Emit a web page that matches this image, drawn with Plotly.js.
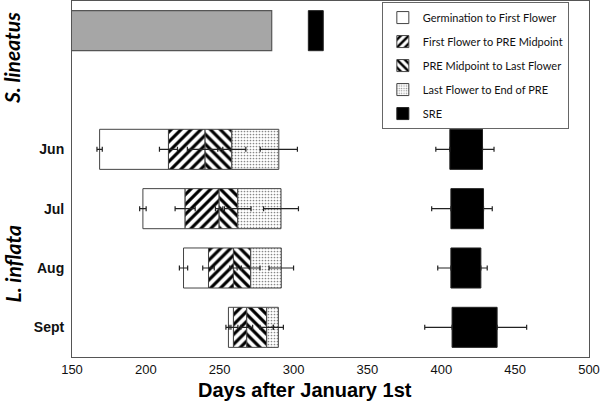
<!DOCTYPE html>
<html>
<head>
<meta charset="utf-8">
<script src="https://cdn.plot.ly/plotly-3.0.1.min.js"></script>
<style>html,body{margin:0;padding:0;background:#fff;}#chart{width:600px;height:409px;}</style>
</head>
<body>
<div id="chart"></div>
<script>
// ---- data ----
const rowLabels = ['Jun', 'Jul', 'Aug', 'Sept'];
const rowPos = [2, 3, 4, 5];
const germ = [168.7, 198.0, 225.5, 255.9];
const firstFlower = [215.3, 226.6, 242.4, 259.3];
const preMid = [240.1, 249.6, 259.3, 268.3];
const lastFlower = [258.2, 262.2, 271.0, 281.8];
const preEnd = [290.0, 291.5, 291.7, 289.7];
const germErr = [1.8, 2.2, 2.8, 1.7];
const firstFlowerErr = [6.1, 6.8, 3.9, 3.0];
const preMidErr = [12, 2.5, 2.5, 4];
const lastFlowerErr = [9.5, 9.0, 6.3, 4.5];
const preEndErr = [12.6, 11.8, 8.3, 3.4];
const sreStart = [405.8, 406.5, 406.5, 407.3];
const sreEnd = [427.9, 428.6, 426.8, 437.8];
const sreStartErr = [9.5, 13.0, 8.9, 18.5];
const sreEndErr = [7.8, 5.9, 4.3, 20.0];
// S. lineatus
const slPos = [0];
const slPreStart = [100];
const slPreEnd = [285.2];
const slSreStart = [310.0];
const slSreEnd = [320.1];
const seriesNames = ['Germination to First Flower', 'First Flower to PRE Midpoint',
  'PRE Midpoint to Last Flower', 'Last Flower to End of PRE', 'SRE'];
const speciesLabels = ['S. lineatus', 'L. inflata'];
const xTitle = 'Days after January 1st';

// ---- helpers ----
const diff = (a, b) => a.map((v, i) => v - b[i]);
const zeros = a => a.map(() => 0);
const W = 0.675;
const outline = {color: '#444', width: 1};

function segment(name, base, end, pattern, color, grp) {
  return {
    type: 'bar', orientation: 'h', name: name, legendgroup: grp,
    y: rowPos, base: base, x: diff(end, base), width: W,
    marker: {color: color, line: outline, pattern: pattern},
    hoverinfo: 'skip'
  };
}
function errs(xs, plus, minus) {
  return {
    type: 'scatter', mode: 'markers', x: xs, y: rowPos, showlegend: false,
    marker: {size: 1, opacity: 0}, hoverinfo: 'skip',
    error_x: {type: 'data', symmetric: false, array: plus, arrayminus: minus, visible: true,
              color: '#222', thickness: 1.2, width: 2.5}
  };
}

const traces = [
  segment(seriesNames[0], germ, firstFlower, {shape: ''}, '#ffffff', 'g1'),
  segment(seriesNames[1], firstFlower, preMid,
    {shape: '/', fgcolor: '#000', bgcolor: '#fff', size: 7, solidity: 0.45}, '#ffffff', 'g2'),
  segment(seriesNames[2], preMid, lastFlower,
    {shape: '\\', fgcolor: '#000', bgcolor: '#fff', size: 7, solidity: 0.45}, '#ffffff', 'g3'),
  segment(seriesNames[3], lastFlower, preEnd,
    {shape: '.', fgcolor: '#888', bgcolor: '#fff', size: 3, solidity: 0.25}, '#ffffff', 'g4'),
  {
    type: 'bar', orientation: 'h', name: seriesNames[4], legendgroup: 'g5',
    y: slPos.concat(rowPos), base: slSreStart.concat(sreStart),
    x: diff(slSreEnd, slSreStart).concat(diff(sreEnd, sreStart)), width: W,
    marker: {color: '#000', line: {color: '#222', width: 1}}, hoverinfo: 'skip'
  },
  {
    type: 'bar', orientation: 'h', name: 'S. lineatus PRE', showlegend: false,
    y: slPos, base: slPreStart, x: diff(slPreEnd, slPreStart), width: W,
    marker: {color: '#a6a6a6', line: {color: '#555', width: 1.2}}, hoverinfo: 'skip'
  },
  errs(germ, germErr, germErr),
  errs(firstFlower, firstFlowerErr, firstFlowerErr),
  errs(preMid, preMidErr, preMidErr),
  errs(lastFlower, lastFlowerErr, lastFlowerErr),
  errs(preEnd, preEndErr, preEndErr),
  errs(sreStart, zeros(sreStartErr), sreStartErr),
  errs(sreEnd, sreEndErr, zeros(sreEndErr))
];

const layout = {
  width: 600, height: 409,
  margin: {l: 72, r: 11, t: 1, b: 52},
  paper_bgcolor: '#fff', plot_bgcolor: '#fff',
  barmode: 'overlay',
  showlegend: true,
  font: {family: 'Liberation Sans, Arial, sans-serif', color: '#000'},
  xaxis: {
    range: [150, 500], dtick: 50, tick0: 150, showgrid: false, zeroline: false,
    showline: true, linecolor: '#555', linewidth: 1, mirror: true, ticks: '',
    tickfont: {size: 13, family: 'Liberation Sans, Arial, sans-serif', color: '#111'}
  },
  yaxis: {
    range: [5.5, -0.5], showgrid: false, zeroline: false,
    showline: true, linecolor: '#555', linewidth: 1, mirror: true, ticks: '',
    tickvals: rowPos, ticktext: rowLabels, ticklabelstandoff: 4,
    tickfont: {size: 14, family: 'Liberation Sans, Arial, sans-serif', weight: 'bold', color: '#111'}
  },
  legend: {
    x: 0.961, xanchor: 'right', y: 0.997, yanchor: 'top',
    bgcolor: '#fff', bordercolor: '#666', borderwidth: 1,
    font: {family: 'Lato, sans-serif', size: 11, color: '#111'},
    traceorder: 'grouped', tracegroupgap: 5, itemwidth: 30
  },
  annotations: [
    {text: '<b><i>' + speciesLabels[0] + '</i></b>', xref: 'paper', yref: 'paper',
     x: -0.116, y: 0.84, xanchor: 'center', yanchor: 'middle', textangle: -90, showarrow: false,
     font: {family: 'Lato, sans-serif', size: 21, color: '#000'}},
    {text: '<b><i>' + speciesLabels[1] + '</i></b>', xref: 'paper', yref: 'paper',
     x: -0.116, y: 0.26, xanchor: 'center', yanchor: 'middle', textangle: -90, showarrow: false,
     font: {family: 'Lato, sans-serif', size: 21, color: '#000'}},
    {text: '<b>' + xTitle + '</b>', xref: 'paper', yref: 'paper',
     x: 0.451, y: -0.094, xanchor: 'center', yanchor: 'middle', showarrow: false,
     font: {family: 'Liberation Sans, Arial, sans-serif', size: 20, color: '#000'}}
  ]
};

Plotly.newPlot('chart', traces, layout, {displayModeBar: false, staticPlot: true});
</script>
</body>
</html>
